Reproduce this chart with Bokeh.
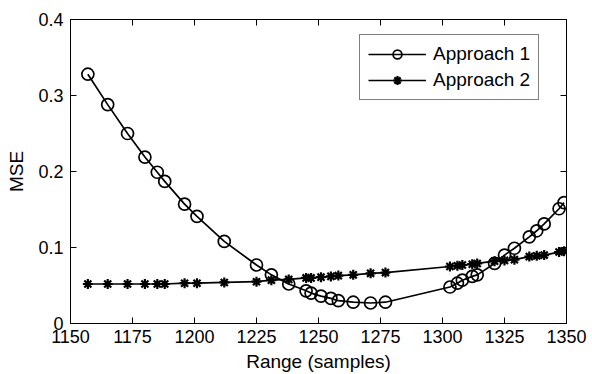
from bokeh.plotting import figure
from bokeh.models import LinearAxis, FixedTicker, Legend, LegendItem
from bokeh.embed import file_html
from bokeh.resources import INLINE

# ---- data ----
range_samples = [1157, 1165, 1173, 1180, 1185, 1188, 1196, 1201, 1212, 1225,
                 1231, 1238, 1245, 1247, 1251, 1255, 1258, 1264, 1271, 1277,
                 1303, 1306, 1308, 1312, 1314, 1321, 1325, 1329, 1335, 1338,
                 1341, 1347, 1349]
mse_approach1 = [0.328, 0.288, 0.250, 0.219, 0.199, 0.187, 0.157, 0.141, 0.108, 0.077,
                 0.064, 0.052, 0.043, 0.040, 0.036, 0.033, 0.030, 0.028, 0.027, 0.028,
                 0.048, 0.053, 0.057, 0.062, 0.064, 0.079, 0.090, 0.099, 0.114, 0.122,
                 0.131, 0.151, 0.159]
mse_approach2 = [0.052, 0.052, 0.052, 0.052, 0.052, 0.052, 0.053, 0.053, 0.054, 0.055,
                 0.057, 0.058, 0.060, 0.060, 0.061, 0.062, 0.063, 0.064, 0.066, 0.067,
                 0.075, 0.076, 0.077, 0.078, 0.079, 0.082, 0.083, 0.084, 0.088, 0.089,
                 0.090, 0.094, 0.095]
x_ticks = [1150, 1175, 1200, 1225, 1250, 1275, 1300, 1325, 1350]
y_ticks = [0, 0.1, 0.2, 0.3, 0.4]
y_tick_labels = ["0", "0.1", "0.2", "0.3", "0.4"]
series_names = ["Approach 1", "Approach 2"]
x_label = "Range (samples)"
y_label = "MSE"

FONT = "Liberation Sans"

p = figure(width=592, height=374, x_range=(1150, 1350), y_range=(0, 0.4),
           output_backend="svg", toolbar_location=None,
           min_border_left=70, min_border_right=26, min_border_top=19, min_border_bottom=51)
p.background_fill_color = "white"
p.border_fill_color = "white"
p.outline_line_color = "black"
p.outline_line_width = 1
p.xgrid.visible = False
p.ygrid.visible = False

def style_axis(ax, labels=True):
    ax.axis_line_color = "black"
    ax.major_tick_in = 6
    ax.major_tick_out = 0
    ax.minor_tick_line_color = None
    ax.major_tick_line_color = "black"
    ax.major_label_text_font = FONT
    ax.major_label_text_font_size = "18px"
    ax.major_label_text_color = "black"
    ax.axis_label_text_font = FONT
    ax.axis_label_text_font_size = "19px"
    ax.axis_label_text_font_style = "normal"
    ax.axis_label_text_color = "black"
    if not labels:
        ax.major_label_text_font_size = "0px"
        ax.major_label_text_color = None

p.xaxis.ticker = FixedTicker(ticks=x_ticks)
p.yaxis.ticker = FixedTicker(ticks=y_ticks)
p.yaxis.major_label_overrides = {t: l for t, l in zip(y_ticks, y_tick_labels)}
p.xaxis.axis_label = x_label
p.yaxis.axis_label = y_label
style_axis(p.xaxis[0])
style_axis(p.yaxis[0])
p.xaxis.major_label_standoff = 6
p.yaxis.major_label_standoff = 7
p.xaxis.axis_label_standoff = 5
p.yaxis.axis_label_standoff = 8

top_ax = LinearAxis(ticker=FixedTicker(ticks=x_ticks))
right_ax = LinearAxis(ticker=FixedTicker(ticks=y_ticks))
style_axis(top_ax, labels=False)
style_axis(right_ax, labels=False)
p.add_layout(top_ax, "above")
p.add_layout(right_ax, "right")

l1 = p.line(range_samples, mse_approach1, line_color="black", line_width=1.7)
s1 = p.scatter(range_samples, mse_approach1, marker="circle", size=12,
               fill_color=None, line_color="black", line_width=1.7)
l2 = p.line(range_samples, mse_approach2, line_color="black", line_width=1.7)
s2 = p.scatter(range_samples, mse_approach2, marker="asterisk", size=10,
               line_color="black", line_width=2.2)

legend = Legend(items=[LegendItem(label=series_names[0], renderers=[l1, s1]),
                       LegendItem(label=series_names[1], renderers=[l2, s2])],
                location=(289, 223))
legend.glyph_width = 58
legend.glyph_height = 22
legend.label_text_font = FONT
legend.label_text_font_size = "19px"
legend.label_text_color = "black"
legend.border_line_color = "black"
legend.border_line_width = 1
legend.background_fill_alpha = 1
legend.padding = 8
legend.spacing = 4
legend.margin = 0
legend.label_standoff = 7
p.add_layout(legend, "center")

open("out.html", "w").write(file_html(p, INLINE))
